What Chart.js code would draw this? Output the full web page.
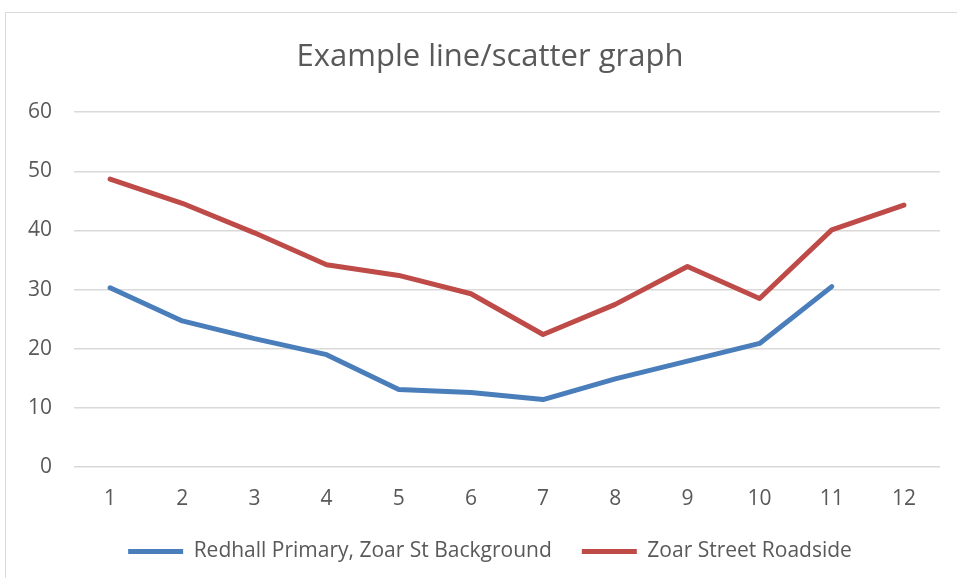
<!DOCTYPE html>
<html><head><meta charset="utf-8">
<script src="https://cdn.jsdelivr.net/npm/chart.js@4/dist/chart.umd.min.js"></script>
<style>
html,body{margin:0;padding:0;background:#fff;overflow:hidden;width:957px;height:578px}
#box{position:absolute;left:5px;top:12px;width:968px;height:580px;border:1px solid #d9d9d9;background:#fff}
#c{display:block}
</style></head><body>
<div id="box"><canvas id="c" width="968" height="565"></canvas></div>
<script>
const categories = ['1','2','3','4','5','6','7','8','9','10','11','12'];
const redhallBackground = [30.3, 24.7, 21.7, 19.0, 13.1, 12.6, 11.4, 14.9, 17.9, 20.9, 30.5, null];
const zoarRoadside = [48.7, 44.6, 39.6, 34.2, 32.4, 29.3, 22.4, 27.5, 33.9, 28.5, 40.1, 44.3];
const seriesNames = ['Redhall Primary, Zoar St Background', 'Zoar Street Roadside'];
const yTicks = [0, 10, 20, 30, 40, 50, 60];

const FONT = "'Open Sans', sans-serif";
const TXT = '#595959';
new Chart(document.getElementById('c'), {
  type: 'line',
  data: {
    labels: categories,
    datasets: [
      {label: seriesNames[0], data: redhallBackground, borderColor: '#4a7ebb', backgroundColor: '#4a7ebb',
       borderWidth: 5, pointRadius: 0, pointStyle: 'line', borderCapStyle: 'round', borderJoinStyle: 'round', tension: 0},
      {label: seriesNames[1], data: zoarRoadside, borderColor: '#be4b48', backgroundColor: '#be4b48',
       borderWidth: 5, pointRadius: 0, pointStyle: 'line', borderCapStyle: 'round', borderJoinStyle: 'round', tension: 0}
    ]
  },
  options: {
    responsive: false,
    animation: false,
    layout: {padding: {left: 0, right: 0, top: 0, bottom: 6}},
    plugins: {
      title: {display: true, text: 'Example line/scatter graph', color: TXT,
        font: {family: FONT, size: 31, weight: 'normal'}, padding: {top: 26, bottom: 36}},
      legend: {position: 'bottom', labels: {usePointStyle: true, pointStyleWidth: 55, boxHeight: 5,
        color: TXT, font: {family: FONT, size: 21}, padding: 30}},
      tooltip: {enabled: false}
    },
    scales: {
      x: {offset: true, grid: {display: false, drawTicks: false}, border: {display: false},
        ticks: {color: TXT, font: {family: FONT, size: 21}, padding: 19, maxRotation: 0},
        afterFit: s => { s.height = 44; }},
      y: {min: 0, max: 60, grid: {color: '#d9d9d9', lineWidth: 1.5, drawTicks: false}, border: {display: false},
        afterBuildTicks: s => { s.ticks = yTicks.map(v => ({value: v})); },
        ticks: {color: TXT, font: {family: FONT, size: 21}, padding: 22},
        afterFit: s => { s.width = 68; }},
      yRight: {position: 'right', min: 0, max: 60, grid: {display: false, drawTicks: false}, border: {display: false},
        ticks: {display: false}, afterFit: s => { s.width = 34; }}
    }
  }
});
</script>
</body></html>
